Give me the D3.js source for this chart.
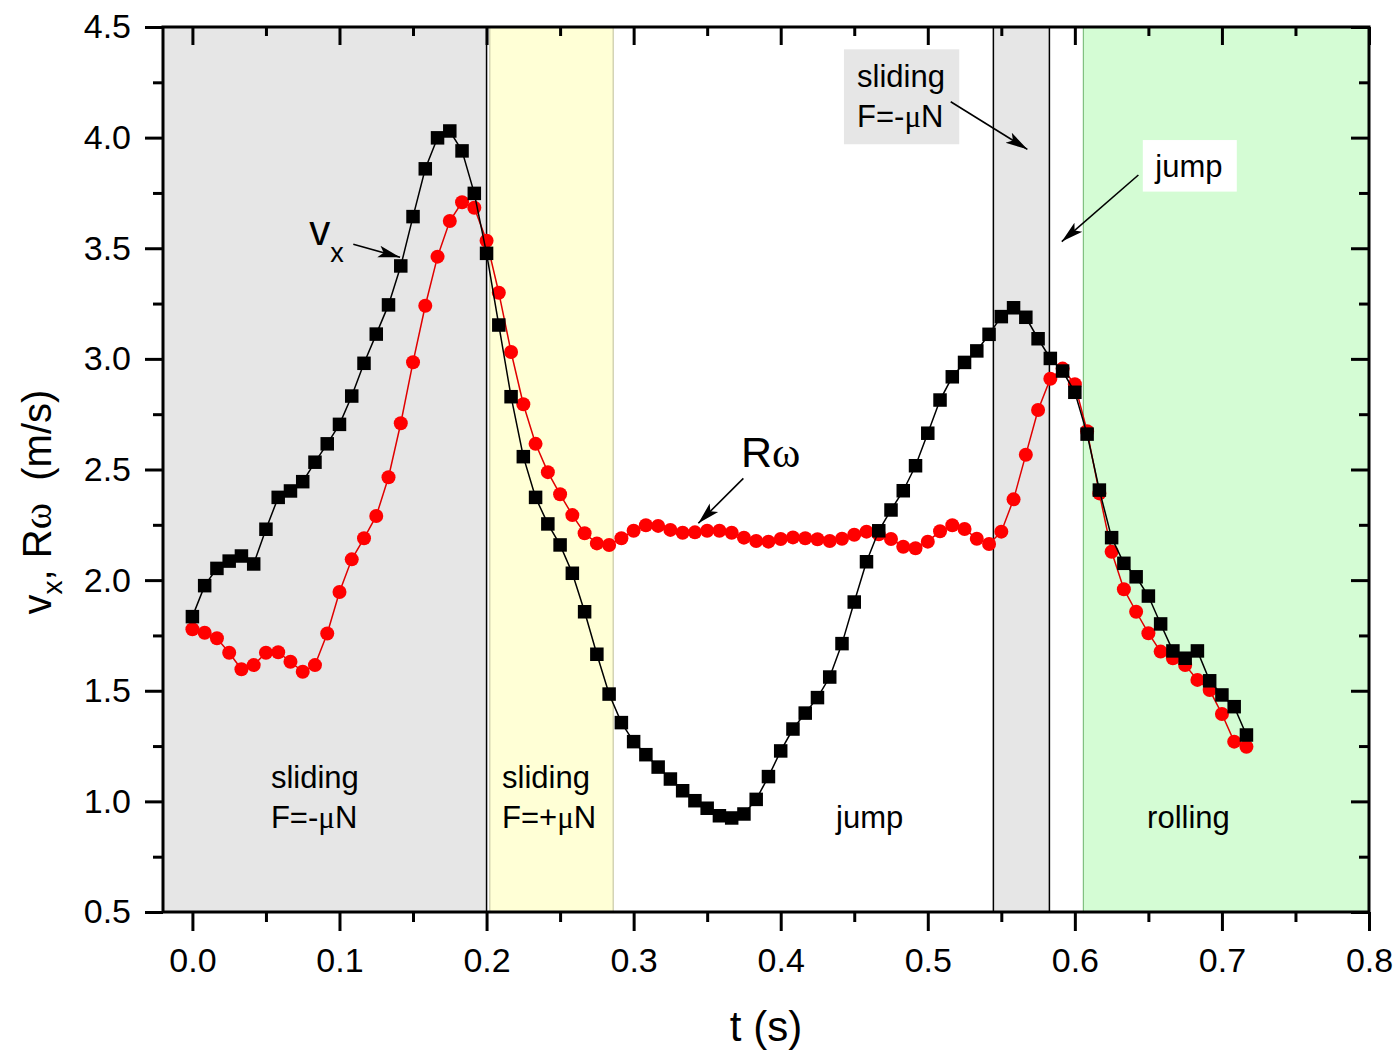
<!DOCTYPE html>
<html>
<head>
<meta charset="utf-8">
<script src="https://cdn.jsdelivr.net/npm/d3@7"></script>
<style>
  body { margin: 0; background: #fff; }
  svg text { font-family: "Liberation Sans", Arial, sans-serif; fill: #000; }
</style>
</head>
<body>
<div id="chart"></div>
<script>
// time stamps (s), video frames
const t = [
  0.00000, 0.00833, 0.01667, 0.02500, 0.03333, 0.04167, 0.05000, 0.05833, 0.06667, 0.07500,
  0.08333, 0.09167, 0.10000, 0.10833, 0.11667, 0.12500, 0.13333, 0.14167, 0.15000, 0.15833,
  0.16667, 0.17500, 0.18333, 0.19167, 0.20000, 0.20833, 0.21667, 0.22500, 0.23333, 0.24167,
  0.25000, 0.25833, 0.26667, 0.27500, 0.28333, 0.29167, 0.30000, 0.30833, 0.31667, 0.32500,
  0.33333, 0.34167, 0.35000, 0.35833, 0.36667, 0.37500, 0.38333, 0.39167, 0.40000, 0.40833,
  0.41667, 0.42500, 0.43333, 0.44167, 0.45000, 0.45833, 0.46667, 0.47500, 0.48333, 0.49167,
  0.50000, 0.50833, 0.51667, 0.52500, 0.53333, 0.54167, 0.55000, 0.55833, 0.56667, 0.57500,
  0.58333, 0.59167, 0.60000, 0.60833, 0.61667, 0.62500, 0.63333, 0.64167, 0.65000, 0.65833,
  0.66667, 0.67500, 0.68333, 0.69167, 0.70000, 0.70833, 0.71667
];

// v_x (m/s)
const vx = [
  1.835, 1.975, 2.053, 2.086, 2.109, 2.073, 2.230, 2.374, 2.403, 2.445,
  2.533, 2.616, 2.704, 2.832, 2.980, 3.112, 3.244, 3.420, 3.643, 3.859,
  3.999, 4.030, 3.940, 3.748, 3.477, 3.153, 2.829, 2.558, 2.374, 2.254,
  2.159, 2.031, 1.857, 1.665, 1.485, 1.356, 1.270, 1.211, 1.155, 1.101,
  1.048, 1.003, 0.969, 0.935, 0.925, 0.943, 1.009, 1.112, 1.228, 1.327,
  1.399, 1.469, 1.562, 1.713, 1.901, 2.083, 2.223, 2.317, 2.404, 2.517,
  2.664, 2.814, 2.919, 2.984, 3.036, 3.111, 3.191, 3.231, 3.188, 3.091,
  3.002, 2.945, 2.849, 2.660, 2.407, 2.192, 2.076, 2.015, 1.928, 1.802,
  1.680, 1.647, 1.680, 1.545, 1.481, 1.428, 1.300
];

// R*omega (m/s)
const rw = [
  1.778, 1.762, 1.737, 1.672, 1.597, 1.616, 1.672, 1.674, 1.631, 1.586,
  1.616, 1.759, 1.946, 2.094, 2.189, 2.290, 2.465, 2.709, 2.985, 3.240,
  3.462, 3.623, 3.708, 3.683, 3.534, 3.299, 3.031, 2.795, 2.616, 2.488,
  2.388, 2.294, 2.212, 2.166, 2.159, 2.189, 2.223, 2.248, 2.245, 2.227,
  2.214, 2.216, 2.223, 2.223, 2.214, 2.192, 2.177, 2.174, 2.186, 2.193,
  2.189, 2.185, 2.177, 2.187, 2.205, 2.219, 2.207, 2.186, 2.151, 2.144,
  2.174, 2.221, 2.248, 2.231, 2.187, 2.163, 2.219, 2.365, 2.567, 2.769,
  2.910, 2.956, 2.885, 2.673, 2.392, 2.128, 1.959, 1.857, 1.760, 1.677,
  1.647, 1.616, 1.549, 1.503, 1.395, 1.270, 1.247
];

// motion phases (s)
const phaseStart = [-0.02, 0.2022, 0.5446, 0.6058];
const phaseEnd   = [0.2, 0.2861, 0.5827, 0.8];

// axis ticks
const xMajor = [0, 0.1, 0.2, 0.3, 0.4, 0.5, 0.6, 0.7, 0.8];
const xMinor = [0.05, 0.15, 0.25, 0.35, 0.45, 0.55, 0.65, 0.75];
const yMajor = [0.5, 1.0, 1.5, 2.0, 2.5, 3.0, 3.5, 4.0, 4.5];
const yMinor = [0.75, 1.25, 1.75, 2.25, 2.75, 3.25, 3.75, 4.25];

// styles for the phase bands
const phaseFill = ["#e6e6e6", "#ffffd6", "#e6e6e6", "#d4fcd4"];
const phaseEdge = [["none", "#000"], ["#c9c9a6", "#c9c9a6"], ["#000", "#000"], ["#7fbf7f", "none"]];

const width = 1397, height = 1051;
const margin = {left: 163, right: 28, top: 27, bottom: 139};

const x = d3.scaleLinear().domain([-0.02, 0.8]).range([margin.left, width - margin.right]);
const y = d3.scaleLinear().domain([0.5, 4.5]).range([height - margin.bottom, margin.top]);

const svg = d3.select("#chart").append("svg")
  .attr("width", width)
  .attr("height", height);

svg.append("rect").attr("width", width).attr("height", height).attr("fill", "#fff");

// arrow head
svg.append("defs").append("marker")
  .attr("id", "head")
  .attr("markerUnits", "userSpaceOnUse")
  .attr("markerWidth", 24).attr("markerHeight", 14)
  .attr("refX", 22).attr("refY", 7)
  .attr("orient", "auto")
  .append("path")
  .attr("d", "M0,1 L22,7 L0,13 L5,7 Z")
  .attr("fill", "#000");

// phase bands
const bands = svg.append("g");
phaseStart.forEach((s, i) => {
  const x0 = x(s), x1 = x(phaseEnd[i]);
  bands.append("rect")
    .attr("x", x0).attr("y", y(4.5))
    .attr("width", x1 - x0).attr("height", y(0.5) - y(4.5))
    .attr("fill", phaseFill[i]);
  [x0, x1].forEach((xx, k) => {
    if (phaseEdge[i][k] === "none") return;
    bands.append("line")
      .attr("x1", xx).attr("x2", xx)
      .attr("y1", y(4.5)).attr("y2", y(0.5))
      .attr("stroke", phaseEdge[i][k])
      .attr("stroke-width", phaseEdge[i][k] === "#000" ? 1.5 : 1.2);
  });
});

// series
const pts = (vals) => t.map((tt, i) => [tt, vals[i]]);
const line = d3.line().x(d => x(d[0])).y(d => y(d[1]));

svg.append("path")
  .datum(pts(rw))
  .attr("d", line)
  .attr("fill", "none")
  .attr("stroke", "#e00000")
  .attr("stroke-width", 1.5);

svg.append("g").selectAll("circle")
  .data(pts(rw))
  .enter().append("circle")
  .attr("cx", d => x(d[0]))
  .attr("cy", d => y(d[1]))
  .attr("r", 7)
  .attr("fill", "#ff0000");

svg.append("path")
  .datum(pts(vx))
  .attr("d", line)
  .attr("fill", "none")
  .attr("stroke", "#000")
  .attr("stroke-width", 1.5);

const sq = 13.5;
svg.append("g").selectAll("rect")
  .data(pts(vx))
  .enter().append("rect")
  .attr("x", d => x(d[0]) - sq / 2)
  .attr("y", d => y(d[1]) - sq / 2)
  .attr("width", sq).attr("height", sq)
  .attr("fill", "#000");

// axes
function styleAxis(g) {
  g.select(".domain").remove();
  g.selectAll(".tick line").attr("stroke", "#000").attr("stroke-width", 3);
  g.selectAll(".tick text").attr("font-size", 34).attr("font-family", "Liberation Sans, Arial, sans-serif");
}
const fmt = d3.format(".1f");
const yBot = y(0.5), yTop = y(4.5), xLeft = x(-0.02), xRight = x(0.8);

svg.append("g").attr("transform", `translate(0,${yBot})`)
  .call(d3.axisBottom(x).tickValues(xMajor).tickSize(19).tickPadding(17).tickFormat(fmt)).call(styleAxis);
svg.append("g").attr("transform", `translate(0,${yBot})`)
  .call(d3.axisBottom(x).tickValues(xMinor).tickSize(10).tickFormat("")).call(styleAxis);
svg.append("g").attr("transform", `translate(0,${yTop})`)
  .call(d3.axisTop(x).tickValues(xMajor).tickSize(-18).tickFormat("")).call(styleAxis);
svg.append("g").attr("transform", `translate(0,${yTop})`)
  .call(d3.axisTop(x).tickValues(xMinor).tickSize(-9).tickFormat("")).call(styleAxis);

svg.append("g").attr("transform", `translate(${xLeft},0)`)
  .call(d3.axisLeft(y).tickValues(yMajor).tickSize(18).tickPadding(14).tickFormat(fmt)).call(styleAxis);
svg.append("g").attr("transform", `translate(${xLeft},0)`)
  .call(d3.axisLeft(y).tickValues(yMinor).tickSize(10).tickFormat("")).call(styleAxis);
svg.append("g").attr("transform", `translate(${xRight},0)`)
  .call(d3.axisRight(y).tickValues(yMajor).tickSize(-18).tickFormat("")).call(styleAxis);
svg.append("g").attr("transform", `translate(${xRight},0)`)
  .call(d3.axisRight(y).tickValues(yMinor).tickSize(-10).tickFormat("")).call(styleAxis);

// frame
svg.append("rect")
  .attr("x", xLeft).attr("y", yTop)
  .attr("width", xRight - xLeft).attr("height", yBot - yTop)
  .attr("fill", "none").attr("stroke", "#000").attr("stroke-width", 3);

// axis titles
svg.append("text")
  .attr("x", x(0.39)).attr("y", 1041)
  .attr("text-anchor", "middle")
  .attr("font-size", 42)
  .text("t (s)");

const yt = svg.append("text")
  .attr("transform", "translate(51,502) rotate(-90)")
  .attr("text-anchor", "middle")
  .attr("font-size", 40)
  .style("white-space", "pre");
yt.append("tspan").text("v");
yt.append("tspan").attr("font-size", 28).attr("dy", 11).text("x");
yt.append("tspan").attr("dy", -11).text(", R");
yt.append("tspan").attr("font-family", "Liberation Serif, serif").text("ω");
yt.append("tspan").text("  (m/s)");

// phase labels
function mu(sel, pre, post) {
  sel.append("tspan").text(pre);
  sel.append("tspan").attr("font-family", "Liberation Serif, serif").text("μ");
  sel.append("tspan").text(post);
}
const lab = svg.append("g").attr("font-size", 31);
[[0.0534, "-"], [0.2105, "+"]].forEach(([tt, sign]) => {
  lab.append("text").attr("x", x(tt)).attr("y", y(1.060)).text("sliding");
  mu(lab.append("text").attr("x", x(tt)).attr("y", y(0.880)), "F=" + sign, "N");
});
lab.append("text").attr("x", x(0.4376)).attr("y", y(0.880)).text("jump");
lab.append("text").attr("x", x(0.6491)).attr("y", y(0.880)).text("rolling");

// boxed notes
const notes = svg.append("g").attr("font-size", 31);
notes.append("rect")
  .attr("x", x(0.4430)).attr("y", y(4.399))
  .attr("width", x(0.5214) - x(0.4430)).attr("height", y(3.970) - y(4.399))
  .attr("fill", "#e6e6e6");
notes.append("text").attr("x", x(0.4519)).attr("y", y(4.229)).text("sliding");
mu(notes.append("text").attr("x", x(0.4519)).attr("y", y(4.048)), "F=-", "N");

notes.append("rect")
  .attr("x", x(0.6462)).attr("y", y(3.989))
  .attr("width", x(0.7101) - x(0.6462)).attr("height", y(3.756) - y(3.989))
  .attr("fill", "#fff");
notes.append("text").attr("x", x(0.6547)).attr("y", y(3.822)).text("jump");

// series labels
const vl = svg.append("text").attr("x", x(0.0795)).attr("y", y(3.515)).attr("font-size", 42);
vl.append("tspan").text("v");
vl.append("tspan").attr("font-size", 27).attr("dy", 17).text("x");

const rl = svg.append("text").attr("x", x(0.373)).attr("y", y(2.511)).attr("font-size", 43);
rl.append("tspan").text("R");
rl.append("tspan").attr("font-family", "Liberation Serif, serif").text("ω");

// arrows
const arrows = [
  [0.1094, 3.518, 0.1412, 3.459],
  [0.3746, 2.460, 0.3440, 2.257],
  [0.5156, 4.162, 0.5677, 3.947],
  [0.6432, 3.831, 0.5911, 3.530]
];
svg.append("g").selectAll("line")
  .data(arrows)
  .enter().append("line")
  .attr("x1", d => x(d[0])).attr("y1", d => y(d[1]))
  .attr("x2", d => x(d[2])).attr("y2", d => y(d[3]))
  .attr("stroke", "#000").attr("stroke-width", 1.6)
  .attr("marker-end", "url(#head)");
</script>
</body>
</html>
